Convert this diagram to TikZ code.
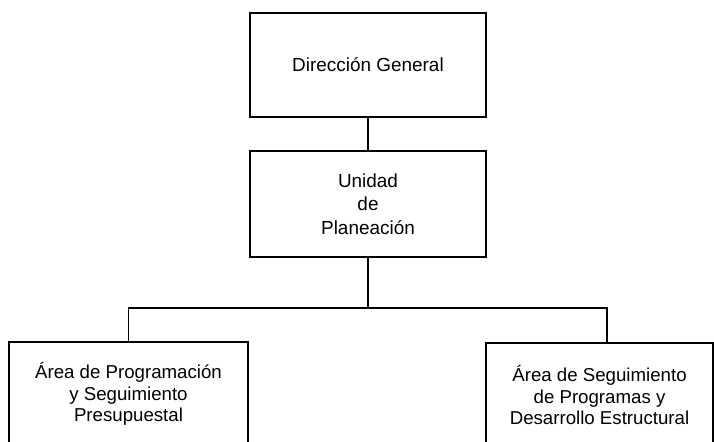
\documentclass[tikz,border=0pt]{standalone}
\usepackage{fontspec}
\setmainfont{Liberation Sans}
\usetikzlibrary{positioning, calc}
\tikzset{unit/.style={draw=black, line width=1.1pt, rectangle, align=center, font=\fontsize{14.2pt}{17.8pt}\selectfont}}
\tikzset{area/.style={unit, font=\fontsize{14pt}{16pt}\selectfont}}
\tikzset{link/.style={draw=black, line width=1.1pt}}

\begin{document}
\begin{tikzpicture}[x=0.75pt, y=-0.75pt]
  \useasboundingbox (0,0) rectangle (714,442);

  \node[unit, minimum width=177pt, minimum height=78pt] (dg) at (368,65) {Dirección General};
  \node[unit, minimum width=177pt, minimum height=79.5pt] (up) at (368,204) {Unidad\\de\\Planeación};

  % las dos areas, cortadas por el borde inferior
  \node[area, minimum width=179.25pt, minimum height=78pt] (prog) at (128.5,394) {Área de Programación\\y Seguimiento\\Presupuestal};
  \node[area, minimum width=170.25pt, minimum height=78pt] (seg) at (599.5,395) {Área de Seguimiento\\de Programas y\\Desarrollo Estructural};

  \coordinate (split) at (368,308);

  \draw[link] (dg) -- (up);
  \draw[link] (up) -- (split);
  \draw[link] (prog.north) |- (split) -| ([xshift=5.6pt]seg.north);
\end{tikzpicture}
\end{document}
